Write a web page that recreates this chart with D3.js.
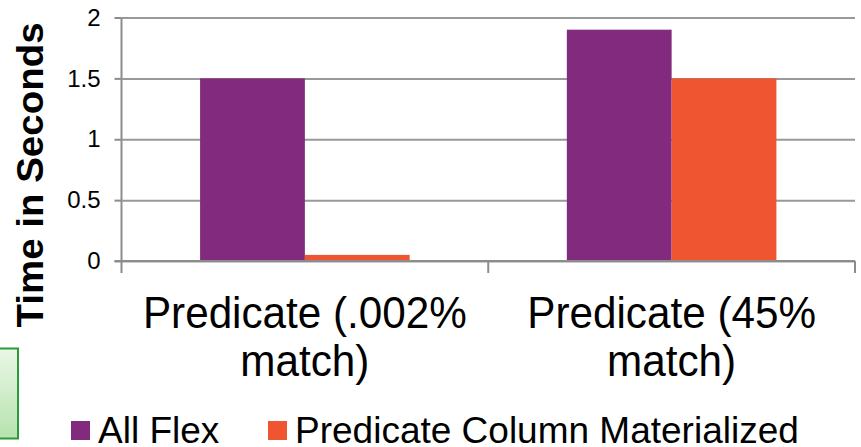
<!DOCTYPE html>
<html>
<head>
<meta charset="utf-8">
<script src="https://cdn.jsdelivr.net/npm/d3@7"></script>
<style>
  html, body { margin: 0; padding: 0; background: #fff; }
  svg { display: block; font-family: "Liberation Sans", Arial, sans-serif; }
</style>
</head>
<body>
<svg id="chart" width="861" height="447"></svg>
<script>
// Query timings per predicate selectivity
const categories = [["Predicate (.002%", "match)"], ["Predicate (45%", "match)"]];
const categoryKeys = ["Predicate (.002% match)", "Predicate (45% match)"];
const seriesNames = ["All Flex", "Predicate Column Materialized"];
const allFlex = [1.5, 1.9];
const predicateMaterialized = [0.05, 1.5];
const yTicks = [0, 0.5, 1, 1.5, 2];
const colors = ["#822A7E", "#F05532"];

const svg = d3.select("#chart");
const plot = { left: 121.5, right: 855, top: 17.5, bottom: 261 };

const y = d3.scaleLinear().domain([0, 2]).range([plot.bottom, plot.top]);
const x0 = d3.scaleBand().domain(categoryKeys).range([plot.left, plot.right]).paddingInner(0).paddingOuter(0);
const x1 = d3.scaleBand().domain(seriesNames).range([0, x0.bandwidth()]).paddingInner(0).paddingOuter(0.75);

// Decorative callout box at the left edge
const grad = svg.append("defs").append("linearGradient")
  .attr("id", "greenFill").attr("x1", 0).attr("y1", 0).attr("x2", 0).attr("y2", 1);
grad.append("stop").attr("offset", "0%").attr("stop-color", "#eaf7e6");
grad.append("stop").attr("offset", "100%").attr("stop-color", "#b6e3ae");
svg.append("rect")
  .attr("x", -10).attr("y", 348.5).attr("width", 28).attr("height", 90)
  .attr("fill", "url(#greenFill)").attr("stroke", "#2a9a3a").attr("stroke-width", 2);

// Horizontal gridlines with left tick marks
const yAxis = d3.axisLeft(y).tickValues(yTicks).tickSize(7).tickPadding(14)
  .tickFormat(d => d3.format("")(d));
const gy = svg.append("g").attr("transform", `translate(${plot.left},0)`).call(yAxis);
gy.select(".domain").attr("stroke", "#8c8c8c").attr("stroke-width", 2)
  .attr("d", `M0,${plot.top}V${plot.bottom}`);
gy.selectAll(".tick line").attr("stroke", "#8c8c8c").attr("stroke-width", 2);
gy.selectAll(".tick").append("line")
  .attr("x1", 0).attr("x2", plot.right - plot.left)
  .attr("stroke", "#999").attr("stroke-width", 2);
gy.selectAll(".tick text").attr("fill", "#000").attr("font-size", 24)
  .attr("font-family", "Liberation Sans, Arial, sans-serif");

// Bars
const rows = categoryKeys.map((c, i) => ({ cat: c, vals: [allFlex[i], predicateMaterialized[i]] }));
const groups = svg.append("g").selectAll("g").data(rows).join("g")
  .attr("transform", d => `translate(${x0(d.cat)},0)`);
groups.selectAll("rect").data(d => d.vals.map((v, j) => ({ s: seriesNames[j], v, j }))).join("rect")
  .attr("x", d => x1(d.s)).attr("width", x1.bandwidth())
  .attr("y", d => y(d.v)).attr("height", d => y(0) - y(d.v))
  .attr("fill", d => colors[d.j]);

// Category axis
const xAxis = d3.axisBottom(x0).tickSize(0).tickFormat("");
const gx = svg.append("g").attr("transform", `translate(0,${plot.bottom})`).call(xAxis);
gx.select(".domain").attr("stroke", "#8c8c8c").attr("stroke-width", 2)
  .attr("d", `M${plot.left - 7},0H${plot.right}`);
const boundaries = [plot.left, plot.left + x0.bandwidth(), plot.right];
gx.selectAll(".sep").data(boundaries).join("line").attr("class", "sep")
  .attr("x1", d => d).attr("x2", d => d).attr("y1", 0).attr("y2", 12)
  .attr("stroke", "#8c8c8c").attr("stroke-width", 2);

// Category labels (two lines each), slightly condensed
const labelGroups = svg.append("g").selectAll("g").data(categoryKeys).join("g")
  .attr("transform", d => `translate(${x0(d) + x0.bandwidth() / 2},0) scale(0.96,1)`);
const labels = labelGroups.append("text")
  .attr("text-anchor", "middle").attr("font-size", 44).attr("fill", "#000");
labels.each(function (d, i) {
  const t = d3.select(this);
  categories[i].forEach((line, k) => {
    t.append("tspan").attr("x", 0).attr("y", 328 + k * 48).text(line);
  });
});

// Y axis title
svg.append("text")
  .attr("transform", "translate(43,175) rotate(-90) scale(1,0.94)")
  .attr("text-anchor", "middle").attr("font-size", 38.5).attr("font-weight", "bold")
  .attr("fill", "#000").text("Time in Seconds");

// Legend
const legendX = [71, 268];
const legend = svg.append("g").selectAll("g").data(seriesNames).join("g")
  .attr("transform", (d, i) => `translate(${legendX[i]},421)`);
legend.append("rect").attr("width", 19).attr("height", 19).attr("fill", (d, i) => colors[i]);
legend.append("text").attr("x", 27).attr("y", 22).attr("font-size", 37).attr("fill", "#000")
  .text(d => d);
</script>
</body>
</html>
